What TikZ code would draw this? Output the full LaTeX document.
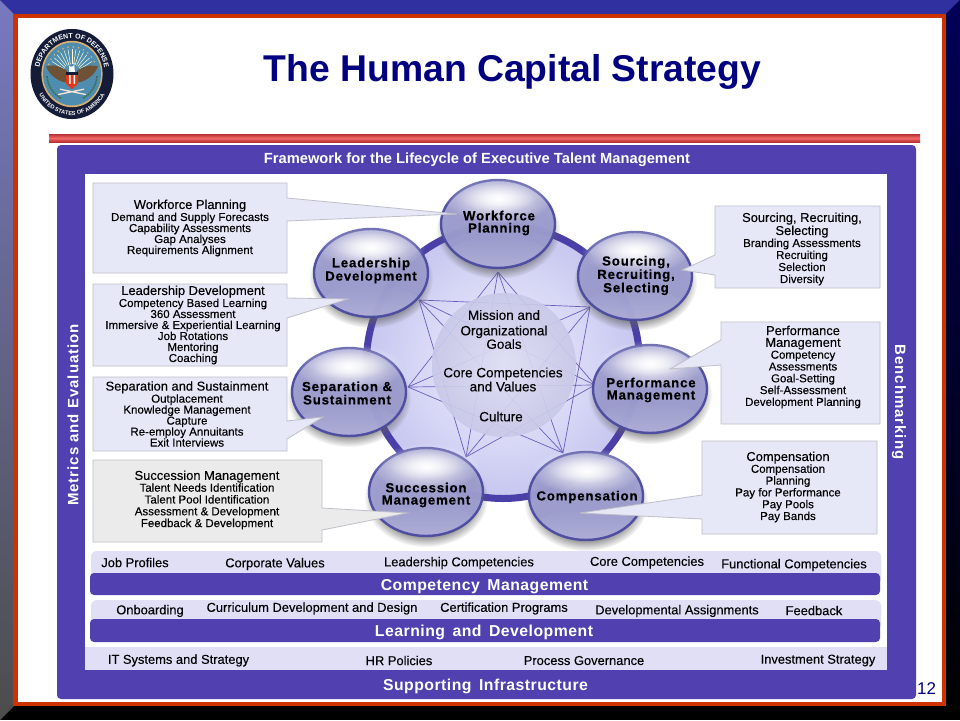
\documentclass[tikz,border=0pt]{standalone}
\usepackage{fontspec}
\setmainfont{Liberation Sans}
\newfontfamily\fb[FakeBold=0.2]{Liberation Sans}
\newfontfamily\orbf[LetterSpace=6.5,FakeBold=0.45]{Liberation Sans Bold}
\newfontfamily\bandf[LetterSpace=3]{Liberation Sans Bold}
\newfontfamily\sidef[LetterSpace=6.5]{Liberation Sans Bold}
\usetikzlibrary{fadings,decorations.text,shapes.geometric}
\tikzfading[name=glow,inner color=transparent!0,outer color=transparent!100]
\definecolor{panel}{HTML}{5040B0}
\definecolor{redb}{HTML}{CC3300}
\definecolor{topb}{HTML}{3030A0}
\definecolor{navyb}{HTML}{000058}
\definecolor{titleb}{HTML}{000080}
\definecolor{boxf}{HTML}{E6E7F7}
\definecolor{boxg}{HTML}{EBEBEB}
\definecolor{boxl}{HTML}{BFBFC8}
\definecolor{band}{HTML}{E0DFF6}
\definecolor{ringc}{HTML}{4A3FA8}
\definecolor{orbr}{HTML}{4A4AA0}
\definecolor{orbt}{HTML}{A0A0D0}
\definecolor{orbm}{HTML}{BCBCE0}
\definecolor{orbb}{HTML}{9A9AD0}
\definecolor{discin}{HTML}{F2F2FF}
\definecolor{discout}{HTML}{C6C6F0}
\definecolor{midin}{HTML}{DEDEF4}
\definecolor{midout}{HTML}{C8C8E8}
\definecolor{ruled}{HTML}{B83030}
\definecolor{rulel}{HTML}{F06868}
\definecolor{sealb}{HTML}{4F8DB0}
\definecolor{sealn}{HTML}{141C38}
\definecolor{sealg}{HTML}{D8B070}
\definecolor{wing}{HTML}{6E5236}
\definecolor{laurel}{HTML}{3E7050}
\tikzset{
  callbox/.style={fill=boxf,draw=boxl,line width=.8pt,line join=miter},
  calltext/.style={inner sep=0,align=center,text=black,font=\fb\fontsize{11.5}{11}\selectfont},
  orbtext/.style={inner sep=0,align=center,text=black,font=\orbf\fontsize{13.2}{12.2}\selectfont},
  bandtext/.style={inner sep=0,text=white,font=\bandf\fontsize{15.8}{16}\selectfont},
  sidetext/.style={inner sep=0,text=white,font=\sidef\fontsize{15}{15}\selectfont},
  itemtext/.style={inner sep=0,text=black,font=\fb\fontsize{12.9}{13}\selectfont},
  midtext/.style={inner sep=0,align=center,text=black,font=\fb\fontsize{13.5}{14}\selectfont},
  starline/.style={draw=panel!85,line width=.7pt}
}
\newcommand{\tl}[1]{{\fontsize{12.9}{11}\selectfont #1}}
\newcommand{\orb}[2]{%
  \fill[gray!75!black,opacity=.6,path fading=circle with fuzzy edge 20 percent] (#1,#2+6) ellipse [x radius=62,y radius=49];
  \shade[top color=orbt,middle color=orbm,bottom color=orbb,opacity=.94,draw=orbr,line width=2.4pt] (#1,#2) ellipse [x radius=57,y radius=44];
  \fill[white,path fading=glow] (#1,#2-25) ellipse [x radius=54,y radius=24];
  \fill[white,opacity=.7,path fading=glow] (#1,#2-27) ellipse [x radius=40,y radius=14];
  \begin{scope}
    \clip (#1,#2) ellipse [x radius=55.5,y radius=42.5];
    \fill[white,opacity=.42,path fading=north] (#1,#2+46) ellipse [x radius=62,y radius=34];
  \end{scope}
}
\begin{document}
\begin{tikzpicture}[x=1pt,y=-1pt]
\useasboundingbox (0,0) rectangle (960,720);
% frame
\fill[black] (0,0) rectangle (960,720);
\fill[topb] (0,0) -- (960,0) -- (946,14) -- (14,14) -- cycle;
\shade[top color=navyb,bottom color=black] (960,0) -- (960,720) -- (946,706) -- (946,14) -- cycle;
\shade[top color=topb!65!white,bottom color=black!70] (0,0) -- (14,14) -- (14,706) -- (0,720) -- cycle;
\fill[redb] (13,14) rectangle (946,706);
\fill[white] (18,18) rectangle (942,702);
% seal
\begin{scope}[shift={(72,74)},y=1pt,yscale=1.085]
  \fill[sealn] (0,0) circle (41.5);
  \fill[sealg] (0,0) circle (30.6);
  \fill[sealb] (0,0) circle (29);
  \foreach \a in {20,30,...,160} \draw[white!85!yellow,line width=.5pt] (\a:9) -- (\a:23);
  \foreach \a in {15,27,...,165} \fill[sealg] (\a:25) circle (.9);
  \path[postaction={decorate,decoration={text along path,text align=center,text color=white,text={|\fontsize{7}{7}\selectfont\bfseries|DEPARTMENT OF DEFENSE}}}] (188:33) arc[start angle=188,end angle=-8,radius=33];
  \path[postaction={decorate,decoration={text along path,text align=center,text color=white,text={|\fontsize{5.6}{6}\selectfont\bfseries|UNITED STATES OF AMERICA}}}] (208:38) arc[start angle=208,end angle=332,radius=38];
  \fill[wing] (-5,3) .. controls (-13,8) and (-21,9) .. (-26,7) .. controls (-23,0) and (-15,-7) .. (-5,-8) -- cycle;
  \fill[wing] (5,3) .. controls (13,8) and (21,9) .. (26,7) .. controls (23,0) and (15,-7) .. (5,-8) -- cycle;
  \fill[white] (-3,11) .. controls (-5,8) and (-2,6) .. (1,7) .. controls (3,8) and (3,11) .. (2,11) -- (3,1) -- (-3,1) -- cycle;
  \fill[red!55!brown] (-6,2) rectangle (6,-9);
  \fill[sealn] (-6,2) rectangle (6,-1);
  \fill[white] (-3,-1) rectangle (-1.5,-9) (1.5,-1) rectangle (3,-9);
  \fill[red!55!brown] (-6,-9) -- (6,-9) -- (0,-14) -- cycle;
  \draw[white!80!brown,line width=1.3pt] (-14,-19) -- (12,-14) (14,-19) -- (-12,-14);
  \draw[laurel,line width=1.6pt,dash pattern=on 2pt off .8pt] (-25,-2) arc[start angle=185,end angle=245,radius=25];
  \draw[laurel,line width=1.6pt,dash pattern=on 2pt off .8pt] (25,-2) arc[start angle=-5,end angle=-65,radius=25];
\end{scope}
% rule
\shade[top color=ruled,bottom color=ruled,middle color=rulel] (49,134) rectangle (920,142);
% panel
\fill[panel,rounded corners=4pt] (57,145) rectangle (916,699);
\fill[white] (85,174) rectangle (887,670);
\fill[band] (85,647) rectangle (887,670);
\node[inner sep=0,font=\bfseries\fontsize{14.7}{15}\selectfont,text=white] (frametitle) at (477,159.5) {Framework for the Lifecycle of Executive Talent Management};
\node[sidetext,rotate=90] (metrics) at (73,415) {Metrics and Evaluation};
\node[sidetext,rotate=-90] (bench) at (899,402) {Benchmarking};
% big disc and ring
\shade[inner color=discin,outer color=discout,draw=ringc,line width=7pt] (503,362) circle (136.5);
% star
\coordinate (v0) at (498,272);
\coordinate (v1) at (590,307);
\coordinate (v2) at (595,385);
\coordinate (v3) at (563,453);
\coordinate (v4) at (466,457);
\coordinate (v5) at (408,387);
\coordinate (v6) at (419,300);
\foreach \i in {0,...,6}{
  \pgfmathtruncatemacro{\ja}{mod(\i+2,7)}
  \pgfmathtruncatemacro{\jb}{mod(\i+3,7)}
  \draw[starline] (v\i) -- (v\ja) (v\i) -- (v\jb);
}
\shade[inner color=midin,outer color=midout,opacity=.93] (504,365) circle (72);
\node[midtext,font=\fb\fontsize{13.5}{13.5}\selectfont] (mid1) at (504,329.5) {Mission and\\[2pt]Organizational\\Goals};
\node[midtext] (mid2) at (503,379.5) {Core Competencies\\and Values};
\node[midtext] (mid3) at (501,416.5) {Culture};
% spheres
\orb{498}{224}
\orb{635}{276}
\orb{650}{389}
\orb{586}{496}
\orb{426}{492}
\orb{349}{392}
\orb{371}{273}
% callouts
\draw[callbox] (93,183) -- (287,183) -- (287,198) -- (457,214) -- (287,221) -- (287,273) -- (93,273) -- cycle;
\draw[callbox] (93,284) -- (287,284) -- (287,298) -- (348,299) -- (287,318) -- (287,366) -- (93,366) -- cycle;
\draw[callbox] (93,377) -- (287,377) -- (287,421) -- (323,417) -- (287,439) -- (287,451) -- (93,451) -- cycle;
\draw[callbox,fill=boxg] (93,460) -- (322,460) -- (322,508) -- (407,513) -- (322,530) -- (322,542) -- (93,542) -- cycle;
\draw[callbox] (715,206) -- (880,206) -- (880,288) -- (715,288) -- (715,275) -- (682,270) -- (715,255) -- cycle;
\draw[callbox] (721,322) -- (880,322) -- (880,424) -- (721,424) -- (721,365) -- (670,369) -- (721,340) -- cycle;
\draw[callbox] (702,441) -- (877,441) -- (877,534) -- (702,534) -- (702,519) -- (580,513) -- (702,495) -- cycle;
% sphere labels
\node[orbtext] (o1) at (499,223) {Workforce\\Planning};
\node[orbtext] (o2) at (636,275.5) {Sourcing,\\Recruiting,\\Selecting};
\node[orbtext] (o3) at (651,390) {Performance\\Management};
\node[orbtext] (o4) at (587,497) {Compensation};
\node[orbtext] (o5) at (426,495) {Succession\\Management};
\node[orbtext] (o6) at (347,393) {Separation \&\\Sustainment};
\node[orbtext] (o7) at (371,270.5) {Leadership\\Development};
% box text
\node[calltext] (t1) at (190,228) {\tl{Workforce Planning}\\Demand and Supply Forecasts\\Capability Assessments\\Gap Analyses\\Requirements Alignment};
\node[calltext] (t2) at (193,325) {\tl{Leadership Development}\\Competency Based Learning\\360 Assessment\\Immersive \& Experiential Learning\\Job Rotations\\Mentoring\\Coaching};
\node[calltext] (t3) at (187,414) {\tl{Separation and Sustainment}\\Outplacement\\Knowledge Management\\Capture\\Re-employ Annuitants\\Exit Interviews};
\node[calltext,font=\fb\fontsize{11.5}{11.8}\selectfont] (t4) at (207,500) {\tl{Succession Management}\\Talent Needs Identification\\Talent Pool Identification\\Assessment \& Development\\Feedback \& Development};
\node[calltext,font=\fb\fontsize{11.5}{12}\selectfont] (t5) at (802,249) {\tl{Sourcing, Recruiting,}\\\tl{Selecting}\\Branding Assessments\\Recruiting\\Selection\\Diversity};
\node[calltext,font=\fb\fontsize{11.5}{11.8}\selectfont] (t6) at (803,367) {\tl{Performance}\\\tl{Management}\\Competency\\Assessments\\Goal-Setting\\Self-Assessment\\Development Planning};
\node[calltext,font=\fb\fontsize{11.5}{11.8}\selectfont] (t7) at (788,487) {\tl{Compensation}\\Compensation\\Planning\\Pay for Performance\\Pay Pools\\Pay Bands};
% lower bands
\fill[band,rounded corners=6pt] (91,551) rectangle (881,585);
\fill[panel,rounded corners=4pt] (90,573) rectangle (880,595);
\fill[band,rounded corners=6pt] (91,600) rectangle (881,630);
\fill[panel,rounded corners=4pt] (90,619) rectangle (880,642);
\node[bandtext] (b1) at (484.5,586.5) {Competency\, Management};
\node[bandtext] (b2) at (484,632.5) {Learning\, and\, Development};
\node[bandtext] (b3) at (485.5,686) {Supporting\, Infrastructure};
\node[itemtext] (i1) at (135,562.5) {Job Profiles};
\node[itemtext] (i2) at (275,564) {Corporate Values};
\node[itemtext] (i3) at (459,563) {Leadership Competencies};
\node[itemtext] (i4) at (647,562.5) {Core Competencies};
\node[itemtext] (i5) at (794,565) {Functional Competencies};
\node[itemtext] (i6) at (150,611) {Onboarding};
\node[itemtext] (i7) at (312,608.5) {Curriculum Development and Design};
\node[itemtext] (i8) at (504,608.5) {Certification Programs};
\node[itemtext] (i9) at (677,611) {Developmental Assignments};
\node[itemtext] (i10) at (814,610.5) {Feedback};
\node[itemtext] (i11) at (178.5,660.5) {IT Systems and Strategy};
\node[itemtext] (i12) at (399,660.5) {HR Policies};
\node[itemtext] (i13) at (584,660.5) {Process Governance};
\node[itemtext] (i14) at (818,660.5) {Investment Strategy};
% title and page number
\node[inner sep=0,font=\bfseries\fontsize{37.3}{37}\selectfont,text=titleb] (title) at (512.5,72) {The Human Capital Strategy};
\node[inner sep=0,font=\fontsize{17}{17}\selectfont,text=titleb] (page) at (926.5,689) {12};
\end{tikzpicture}
\end{document}
